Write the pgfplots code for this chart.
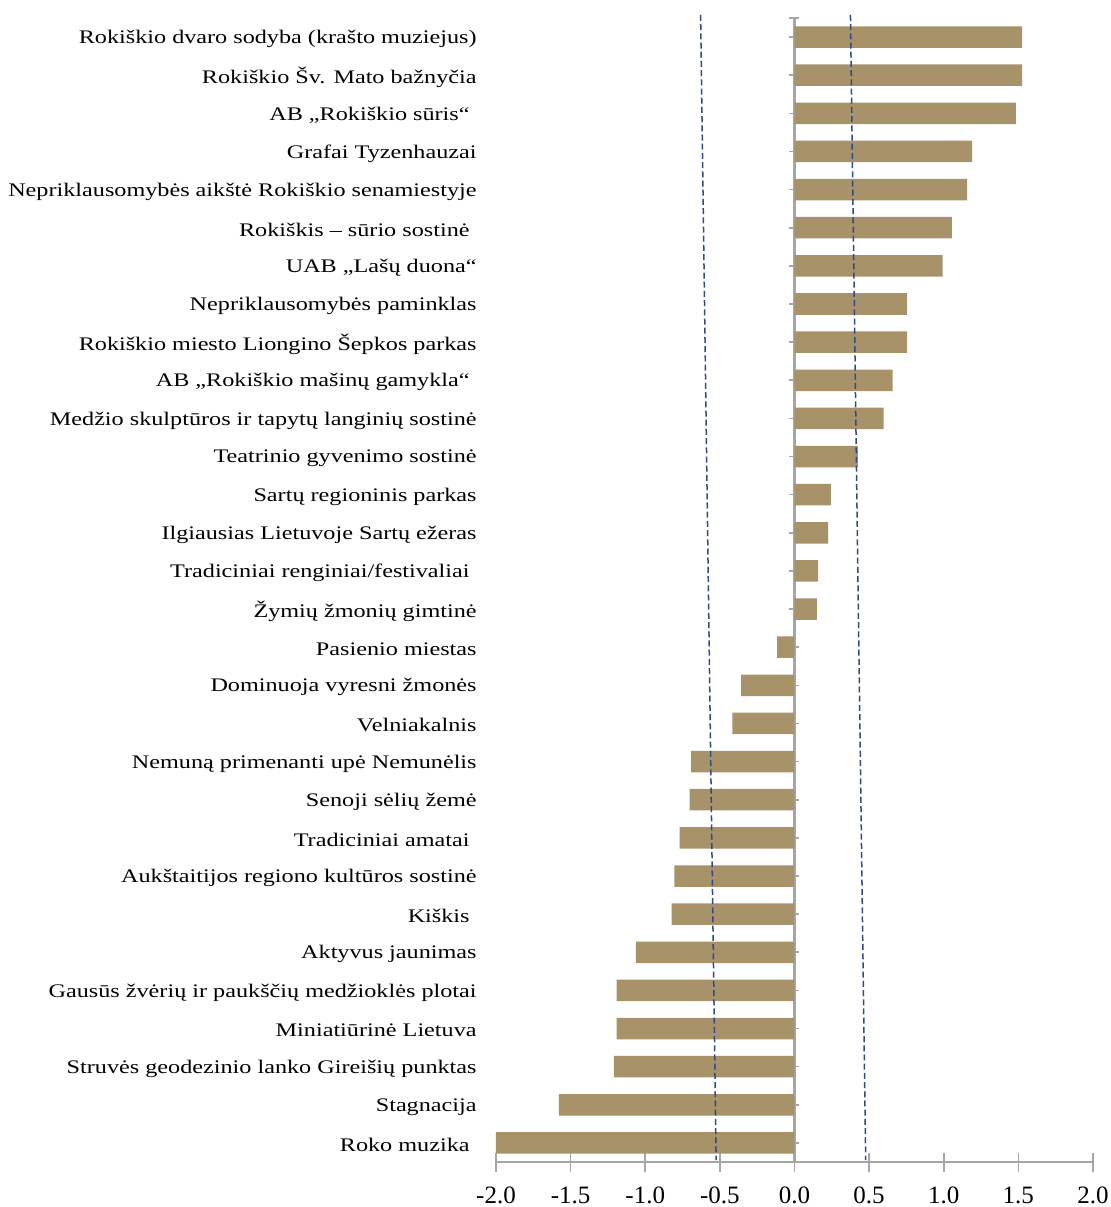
\documentclass[border=0pt]{standalone}
\usepackage{fontspec}
\setmainfont{Liberation Serif}
\newfontfamily\lblfont[FakeStretch=1.26]{Liberation Serif}
\usepackage{pgfplots}
\pgfplotsset{compat=1.18}
\definecolor{barcol}{HTML}{A8926A}
\definecolor{axgray}{HTML}{A6A6A6}
\definecolor{dashblue}{HTML}{2F4B86}
\newcommand{\tsp}{\kern3.5pt}
\begin{document}
\begin{tikzpicture}
\path[use as bounding box] (-248pt,-22.5pt) rectangle (307.5pt,581pt);
\begin{axis}[
  anchor=south west, at={(0,0)},
  scale only axis, width=298.5pt, height=572pt,
  xmin=-2, xmax=2, ymin=0.5, ymax=30.5,
  axis x line=bottom, axis y line=center,
  axis line style={axgray, line width=1.2pt, -},
  xtick={-2,-1.5,-1,-0.5,0,0.5,1,1.5,2},
  xticklabels={-2.0,-1.5,-1.0,-0.5,0.0,0.5,1.0,1.5,2.0},
  xtick align=center, ytick align=center,
  major tick length=9.5pt,
  ytick style={/pgfplots/major tick length=5pt},
  tick style={axgray, line width=0.8pt},
  xticklabel style={font=\fontsize{12.5}{14}\selectfont, yshift=-4pt},
  ytick={1,...,30},
  yticklabels={{Roko muzika\tsp},{Stagnacija},{Struvės geodezinio lanko Gireišių punktas},{Miniatiūrinė Lietuva},{Gausūs žvėrių ir paukščių medžioklės plotai},{Aktyvus jaunimas},{Kiškis\tsp},{Aukštaitijos regiono kultūros sostinė},{Tradiciniai amatai\tsp},{Senoji sėlių žemė},{Nemuną primenanti upė Nemunėlis},{Velniakalnis},{Dominuoja vyresni žmonės},{Pasienio miestas},{Žymių žmonių gimtinė},{Tradiciniai renginiai/festivaliai\tsp},{Ilgiausias Lietuvoje Sartų ežeras},{Sartų regioninis parkas},{Teatrinio gyvenimo sostinė},{Medžio skulptūros ir tapytų langinių sostinė},{AB „Rokiškio mašinų gamykla“\tsp},{Rokiškio miesto Liongino Šepkos parkas},{Nepriklausomybės paminklas},{UAB „Lašų duona“},{Rokiškis – sūrio sostinė\tsp},{Nepriklausomybės aikštė Rokiškio senamiestyje},{Grafai Tyzenhauzai},{AB „Rokiškio sūris“\tsp},{Rokiškio Šv. Mato bažnyčia},{Rokiškio dvaro sodyba (krašto muziejus)}},
  yticklabel style={font=\lblfont\fontsize{9.6}{11}\selectfont, anchor=east, inner sep=0pt, xshift=-154pt, yshift=-1pt},
  extra y ticks={30.5}, extra y tick labels={},
  clip=false,
]
\addplot[xbar, bar width=10.75pt, fill=barcol, draw=none] coordinates {
(-2.0,1) (-1.579,2) (-1.21,3) (-1.192,4) (-1.192,5) (-1.062,6) (-0.823,7) (-0.805,8) (-0.77,9) (-0.703,10)
(-0.693,11) (-0.416,12) (-0.358,13) (-0.116,14) (0.15,15) (0.159,16) (0.226,17) (0.244,18) (0.425,19) (0.597,20)
(0.658,21) (0.754,22) (0.754,23) (0.993,24) (1.054,25) (1.156,26) (1.19,27) (1.483,28) (1.526,29) (1.526,30)
};
\addplot[dashblue, line width=0.75pt, dash pattern=on 3pt off 1.6pt] coordinates {(-0.629,30.58) (-0.525,0.55)};
\addplot[dashblue, line width=0.75pt, dash pattern=on 3pt off 1.6pt] coordinates {(0.375,30.58) (0.477,0.55)};
\end{axis}
\end{tikzpicture}
\end{document}
